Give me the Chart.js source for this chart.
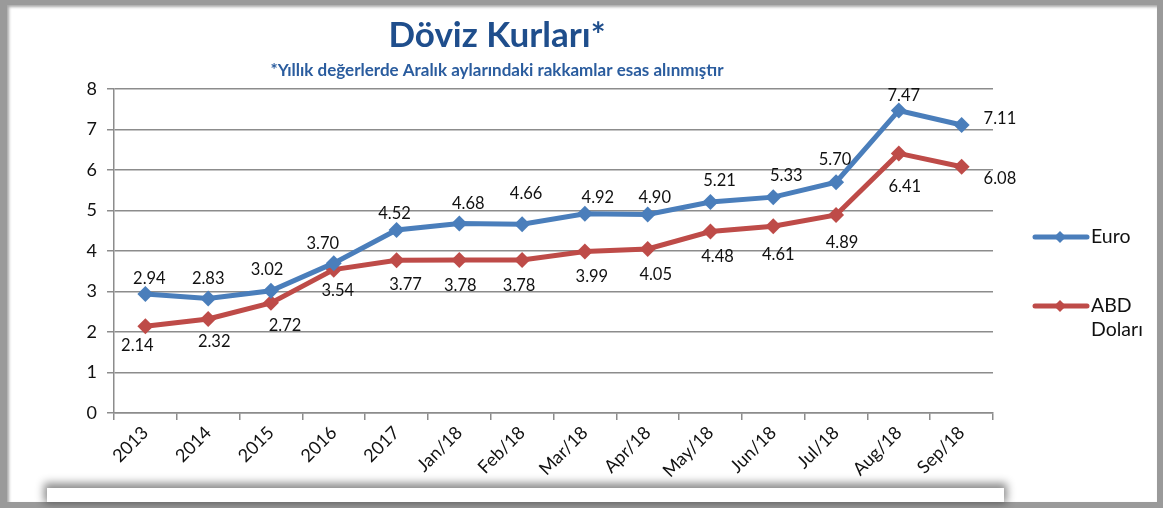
<!DOCTYPE html>
<html>
<head>
<meta charset="utf-8">
<script src="https://cdn.jsdelivr.net/npm/chart.js@4"></script>
<style>
  html, body { margin: 0; padding: 0; }
  body { width: 1163px; height: 508px; background: #9a9a9a; position: relative; overflow: hidden; }
  #panel { position: absolute; left: 7px; top: 5px; width: 1150px; height: 497px; background: #fff;
    box-shadow: inset 2px 2px 3px rgba(0,0,0,0.35); }
  #wrap { position: absolute; left: 0; top: 0; width: 1163px; height: 508px; }
  #note { position: absolute; left: 47px; top: 488px; width: 957px; height: 14px; background: #fff;
    box-shadow: 0 -2px 8px 3px rgba(0,0,0,0.45); }
</style>
</head>
<body>
<div id="panel"></div>
<div id="wrap"><canvas id="kurChart" width="1163" height="508"></canvas></div>
<div id="note"></div>
<script>
// Döviz kurları (yıllık: Aralık değerleri)
const categories = ["2013", "2014", "2015", "2016", "2017", "Jan/18", "Feb/18", "Mar/18", "Apr/18", "May/18", "Jun/18", "Jul/18", "Aug/18", "Sep/18"]
const euro = [2.94, 2.83, 3.02, 3.70, 4.52, 4.68, 4.66, 4.92, 4.90, 5.21, 5.33, 5.70, 7.47, 7.11]
const dolar = [2.14, 2.32, 2.72, 3.54, 3.77, 3.78, 3.78, 3.99, 4.05, 4.48, 4.61, 4.89, 6.41, 6.08]
const yTicks = [0, 1, 2, 3, 4, 5, 6, 7, 8]

const FONT = "Lato, 'Open Sans', sans-serif"
const BLUE = "#4A7EBB"
const RED = "#BE4B48"

// title + subtitle drawn on canvas
const titlePlugin = {
  id: "titles",
  afterDraw(chart) {
    const ctx = chart.ctx
    ctx.save()
    ctx.textAlign = "center"
    ctx.textBaseline = "middle"
    ctx.fillStyle = "#1F4E8C"
    ctx.font = "bold 35px " + FONT
    ctx.fillText("Döviz Kurları*", 497, 36)
    ctx.fillStyle = "#2A5C9E"
    ctx.font = "bold 17px " + FONT
    ctx.fillText("*Yıllık değerlerde Aralık aylarındaki rakkamlar esas alınmıştır", 497, 71)
    ctx.restore()
  }
}

// label nudges (dx, dy from the point), as placed in the original sheet
const labelNudge = [
  [[4, -15], [0, -20], [-4, -21], [-11, -19], [-2, -16], [9, -20], [4, -31], [13, -16], [7, -17], [9, -21], [13, -21], [-1, -22], [5, -15], [22, -6]],
  [[-8, 19], [6, 23], [14, 23], [4, 21], [9, 24], [1, 26], [-3, 26], [7, 25], [8, 26], [7, 25], [5, 28], [6, 28], [6, 33], [22, 12]],
]

const labelPlugin = {
  id: "valueLabels",
  afterDatasetsDraw(chart) {
    const ctx = chart.ctx
    ctx.save()
    ctx.font = "16.5px " + FONT
    ctx.fillStyle = "#111"
    ctx.textBaseline = "middle"
    chart.data.datasets.forEach((ds, di) => {
      const meta = chart.getDatasetMeta(di)
      meta.data.forEach((pt, i) => {
        const txt = ds.data[i].toFixed(2)
        const [dx, dy] = labelNudge[di][i]
        ctx.textAlign = i === ds.data.length - 1 ? "left" : "center"
        ctx.fillText(txt, pt.x + dx, pt.y + dy)
      })
    })
    ctx.restore()
  }
}

// legend on the right, ABD Doları wraps onto two lines
const legendPlugin = {
  id: "sideLegend",
  afterDraw(chart) {
    const ctx = chart.ctx
    const items = [
      { lines: ["Euro"], color: BLUE, y: 237 },
      { lines: ["ABD", "Doları"], color: RED, y: 306 }
    ]
    ctx.save()
    items.forEach(it => {
      ctx.strokeStyle = it.color
      ctx.lineWidth = 5
      ctx.lineCap = "round"
      ctx.beginPath()
      ctx.moveTo(1035, it.y)
      ctx.lineTo(1087, it.y)
      ctx.stroke()
      ctx.fillStyle = it.color
      ctx.beginPath()
      ctx.moveTo(1060, it.y - 6)
      ctx.lineTo(1066, it.y)
      ctx.lineTo(1060, it.y + 6)
      ctx.lineTo(1054, it.y)
      ctx.closePath()
      ctx.fill()
      ctx.fillStyle = "#111"
      ctx.font = "19.5px " + FONT
      ctx.textAlign = "left"
      ctx.textBaseline = "middle"
      it.lines.forEach((l, k) => ctx.fillText(l, 1091, it.y + k * 24))
    })
    ctx.restore()
  }
}

const ctx = document.getElementById("kurChart").getContext("2d")
new Chart(ctx, {
  type: "line",
  data: {
    labels: categories,
    datasets: [
      {
        label: "Euro",
        data: euro,
        borderColor: BLUE,
        backgroundColor: BLUE,
        borderWidth: 5,
        pointStyle: "rectRot",
        pointRadius: 8,
        pointBorderWidth: 0,
        tension: 0,
      },
      {
        label: "ABD Doları",
        data: dolar,
        borderColor: RED,
        backgroundColor: RED,
        borderWidth: 5,
        pointStyle: "rectRot",
        pointRadius: 8,
        pointBorderWidth: 0,
        tension: 0,
      },
    ],
  },
  options: {
    responsive: false,
    animation: false,
    layout: { padding: { left: 0, top: 89, right: 170, bottom: 0 } },
    plugins: {
      legend: { display: false },
      title: { display: false },
      tooltip: { enabled: false },
    },
    scales: {
      x: {
        offset: true,
        afterFit: (s) => { s.height = 95 },
        grid: { display: true, drawOnChartArea: false, offset: true, tickLength: 7, color: "#8c8c8c", lineWidth: 1.5 },
        border: { color: "#8c8c8c", width: 1.5 },
        ticks: { font: { family: FONT, size: 18 }, color: "#111", minRotation: 45, maxRotation: 45, padding: 2 },
      },
      y: {
        min: 0,
        max: 8,
        afterFit: (s) => { s.width = 114 },
        afterBuildTicks: (s) => { s.ticks = yTicks.map(v => ({ value: v })) },
        grid: { color: "#8c8c8c", lineWidth: 1.5, tickLength: 7 },
        border: { color: "#8c8c8c", width: 1.5 },
        ticks: { font: { family: FONT, size: 18 }, color: "#111", padding: 10 },
      },
    },
  },
  plugins: [titlePlugin, labelPlugin, legendPlugin],
})
</script>
</body>
</html>
